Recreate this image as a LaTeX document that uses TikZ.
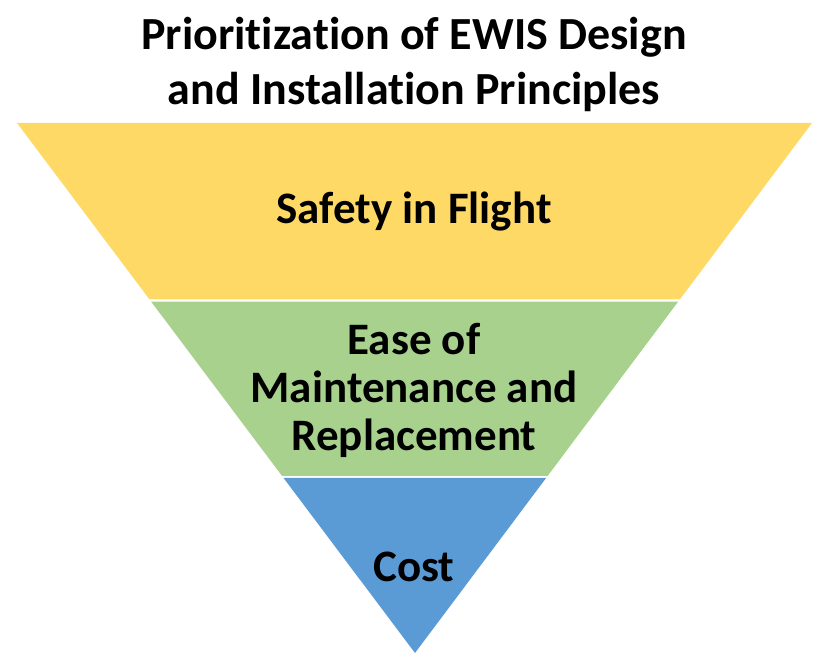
\documentclass[tikz,border=0pt]{standalone}
\usepackage{fontspec}
\setmainfont[Ligatures=CommonOff]{Carlito}
\usetikzlibrary{calc}
\definecolor{ylw}{HTML}{FFD966}
\definecolor{grn}{HTML}{A9D18E}
\definecolor{blu}{HTML}{5B9BD5}
\begin{document}
\begin{tikzpicture}[x=1pt,y=1pt,
  lbl/.style={font=\bfseries\fontsize{45}{48}\selectfont, align=center, text=black},
  ttl/.style={font=\bfseries\fontsize{46}{55}\selectfont, align=center, text=black}]
\useasboundingbox (0,0) rectangle (836,669);
\coordinate (L) at (17,546);
\coordinate (R) at (812,546);
\coordinate (A) at (415,16);
\coordinate (L1) at ($(L)!0.3330!(A)$);
\coordinate (R1) at ($(R)!0.3330!(A)$);
\coordinate (L1b) at ($(L)!0.3368!(A)$);
\coordinate (R1b) at ($(R)!0.3368!(A)$);
\coordinate (L2) at ($(L)!0.6660!(A)$);
\coordinate (R2) at ($(R)!0.6660!(A)$);
\coordinate (L2b) at ($(L)!0.6698!(A)$);
\coordinate (R2b) at ($(R)!0.6698!(A)$);
\fill[ylw] (L) -- (R) -- (R1) -- (L1) -- cycle;
\fill[grn] (L1b) -- (R1b) -- (R2) -- (L2) -- cycle;
\fill[blu] (L2b) -- (R2b) -- (A) -- cycle;
\node[ttl] (title) at (414,605) {Prioritization of EWIS Design\\and Installation Principles};
\node[lbl] (safety) at (414,457) {Safety in Flight};
\node[lbl] (ease) at (414,279) {Ease of\\Maintenance and\\Replacement};
\node[lbl] (cost) at (414,102) {Cost};
\end{tikzpicture}
\end{document}
